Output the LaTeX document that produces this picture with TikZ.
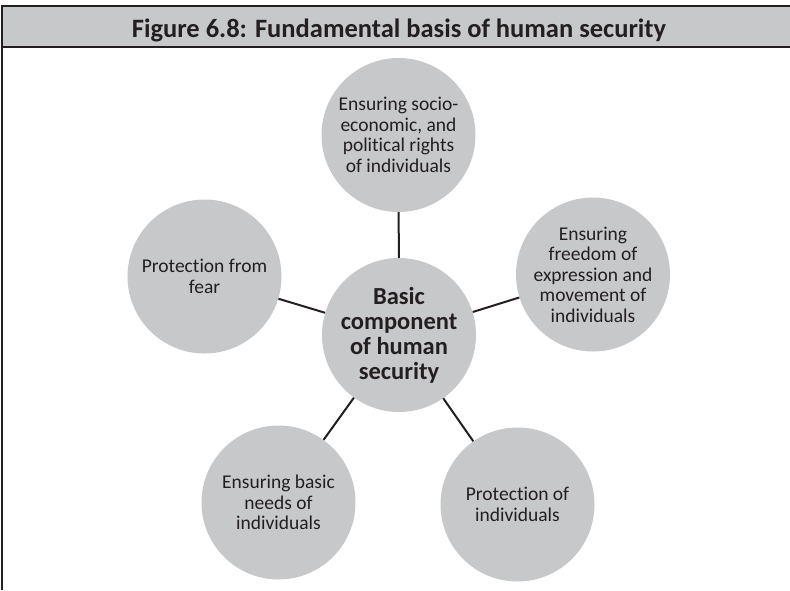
\documentclass[tikz,border=0pt]{standalone}
\usepackage{fontspec}
\setmainfont{Carlito}[Ligatures=CommonOff]
\definecolor{cgrey}{HTML}{C7C8CA}
\definecolor{ink}{HTML}{231F20}
\begin{document}
\begin{tikzpicture}[x=1pt,y=-1pt,
  bubble/.style={circle, fill=cgrey, minimum size=154pt, inner sep=0pt, align=center, text=ink, font=\fontsize{19.5}{20.5}\selectfont},
  hub/.style={bubble, font=\bfseries\fontsize{24.5}{25}\selectfont},
  link/.style={draw=ink, line width=2pt},
  frame/.style={draw=ink, line width=2.5pt}]
\useasboundingbox (0,0) rectangle (790,590);
\fill[cgrey] (2,6) rectangle (790,47);
\draw[frame] (790,6) -- (2,6) -- (2,590);
\draw[frame] (2,47) -- (790,47);
\node[font=\bfseries\fontsize{26.5}{30}\selectfont, text=ink, anchor=base, inner sep=0pt] (title) at (399,37) {Figure 6.8: Fundamental basis of human security};
\node[hub] (c) at (399,335) {Basic\\component\\of human\\security};
\node[bubble] (t) at (398.5,135) {Ensuring socio-\\economic, and\\political rights\\of individuals};
\node[bubble] (l) at (204.5,276.5) {Protection from\\fear};
\node[bubble] (r) at (593,274.5) {Ensuring\\freedom of\\expression and\\movement of\\individuals};
\node[bubble] (bl) at (278.5,502.5) {Ensuring basic\\needs of\\individuals};
\node[bubble] (br) at (517.5,504.5) {Protection of\\individuals};
\draw[link] (c) -- (t);
\draw[link] (c) -- (l);
\draw[link] (c) -- (r);
\draw[link] (c) -- (bl);
\draw[link] (c) -- (br);
\end{tikzpicture}
\end{document}
